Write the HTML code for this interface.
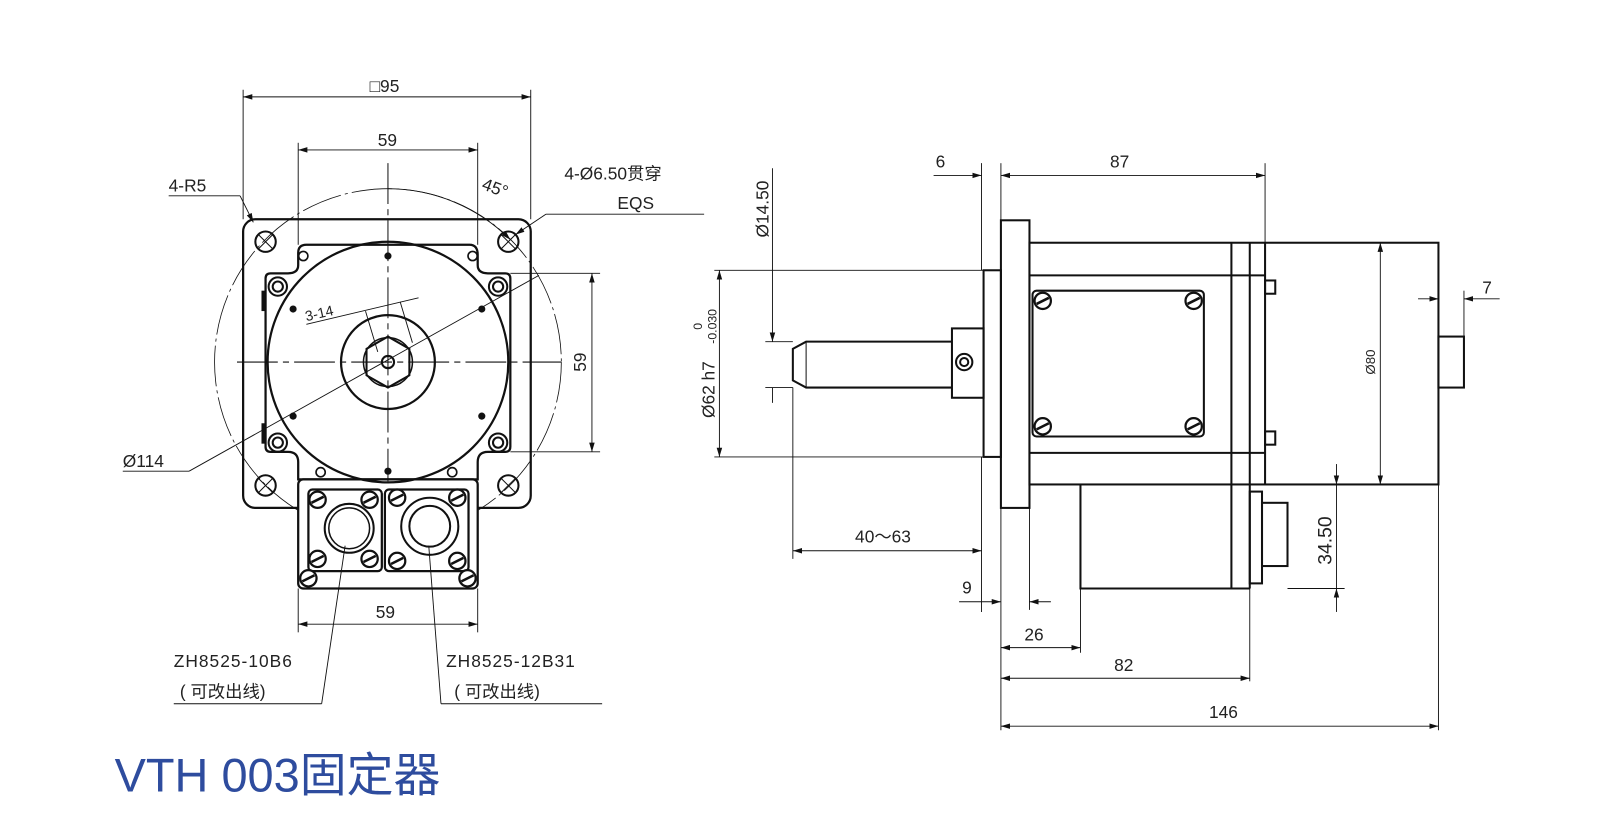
<!DOCTYPE html>
<html><head><meta charset="utf-8"><style>
html,body{margin:0;padding:0;background:#fff;}
svg{display:block}
text{font-family:"Liberation Sans","Noto Sans CJK SC",sans-serif;fill:#222;}
.d{font-size:17px;}
</style></head><body>
<svg width="1601" height="820" viewBox="0 0 1569 804" xmlns="http://www.w3.org/2000/svg">
<defs>
<marker id="a" viewBox="0 0 10 10" refX="10" refY="5" markerWidth="9" markerHeight="9" orient="auto-start-reverse" markerUnits="userSpaceOnUse"><path d="M0,2 L10,5 L0,8z" fill="#111"/></marker>
<g id="scr"><circle r="8" fill="#fff" stroke="#111" stroke-width="2.2"/><line x1="-6" y1="3" x2="6" y2="-3" stroke="#111" stroke-width="2.5"/></g>
<g id="hole"><circle r="10" fill="none" stroke="#111" stroke-width="2"/><line x1="-7" y1="-7" x2="7" y2="7" stroke="#111" stroke-width="1"/><line x1="-7" y1="7" x2="7" y2="-7" stroke="#111" stroke-width="1"/></g>
<g id="ds"><circle r="9" fill="none" stroke="#111" stroke-width="2"/><circle r="5" fill="none" stroke="#111" stroke-width="2"/></g>
</defs>
<g fill="none" stroke="#111">
<circle cx="380" cy="355" r="170" stroke-width="0.8" stroke-dasharray="40 4 3 4"/>
<rect x="238" y="215" width="282" height="283" rx="12" stroke-width="2.2"/>
<rect x="292" y="470" width="176" height="107" rx="5" stroke-width="2.2" fill="#fff"/>
<path d="M300,240 H460 Q468,240 468,250 V260 Q468,268 478,268 H495 Q500,268 500,273 V438 Q500,443 495,443 H478 Q468,443 468,453 V470 H292 V453 Q292,443 282,443 H265 Q260,443 260,438 V273 Q260,268 265,268 H282 Q292,268 292,260 V248 Q292,240 300,240Z" stroke-width="2.2"/>
<rect x="256" y="285" width="4" height="20" fill="#111" stroke="none"/>
<rect x="256" y="415" width="4" height="20" fill="#111" stroke="none"/>
<circle cx="380" cy="355" r="118" stroke-width="2.2"/>
<circle cx="380" cy="355" r="46" stroke-width="2.2"/>
<polygon points="380,330 401,342 401,368 380,380 359,368 359,342" stroke-width="2"/>
<circle cx="380" cy="355" r="24" stroke-width="1.5"/>
<circle cx="380" cy="355" r="6" stroke-width="2"/>
<line x1="232" y1="355" x2="550" y2="355" stroke-width="1" stroke-dasharray="40 5 6 5"/>
<line x1="380" y1="160" x2="380" y2="472" stroke-width="1" stroke-dasharray="40 5 6 5"/>
<line x1="185" y1="462" x2="528" y2="270" stroke-width="0.9"/>
<line x1="120" y1="462" x2="185" y2="462" stroke-width="0.9"/>
<use href="#hole" x="260" y="237"/><use href="#hole" x="498" y="237"/><use href="#hole" x="260" y="476"/><use href="#hole" x="498" y="476"/>
<use href="#ds" x="272" y="281"/><use href="#ds" x="488" y="281"/><use href="#ds" x="272" y="434"/><use href="#ds" x="488" y="434"/>
<circle cx="297" cy="251" r="4.5" stroke-width="1.6"/><circle cx="463" cy="251" r="4.5" stroke-width="1.6"/>
<circle cx="314" cy="463" r="4.5" stroke-width="1.6"/><circle cx="443" cy="463" r="4.5" stroke-width="1.6"/>
<g fill="#111" stroke="none"><circle cx="380" cy="251" r="3.5"/><circle cx="380" cy="462" r="3.5"/><circle cx="287" cy="303" r="3.5"/><circle cx="472" cy="303" r="3.5"/><circle cx="287" cy="408" r="3.5"/><circle cx="472" cy="408" r="3.5"/></g>
<rect x="302" y="480" width="72" height="80" rx="4" stroke-width="2.2"/>
<rect x="377" y="480" width="82" height="80" rx="4" stroke-width="2.2"/>
<circle cx="342" cy="518" r="24" stroke-width="2"/><circle cx="342" cy="518" r="20" stroke-width="1.5"/>
<circle cx="421" cy="516" r="28" stroke-width="2"/><circle cx="421" cy="516" r="20" stroke-width="2"/>
<use href="#scr" x="311" y="490"/><use href="#scr" x="362" y="490"/><use href="#scr" x="311" y="548"/><use href="#scr" x="362" y="548"/>
<use href="#scr" x="389" y="488"/><use href="#scr" x="448" y="488"/><use href="#scr" x="389" y="550"/><use href="#scr" x="448" y="550"/>
<use href="#scr" x="302" y="567"/><use href="#scr" x="458" y="567"/>
<g stroke-width="0.9">
<line x1="238" y1="88" x2="238" y2="215"/><line x1="520" y1="88" x2="520" y2="215"/>
<line x1="238" y1="95" x2="520" y2="95" marker-start="url(#a)" marker-end="url(#a)"/>
<line x1="292" y1="140" x2="292" y2="240"/><line x1="468" y1="140" x2="468" y2="240"/>
<line x1="292" y1="147" x2="468" y2="147" marker-start="url(#a)" marker-end="url(#a)"/>
<line x1="500" y1="268" x2="588" y2="268"/><line x1="500" y1="443" x2="588" y2="443"/>
<line x1="580" y1="268" x2="580" y2="443" marker-start="url(#a)" marker-end="url(#a)"/>
<line x1="292" y1="577" x2="292" y2="620"/><line x1="468" y1="577" x2="468" y2="620"/>
<line x1="292" y1="612" x2="468" y2="612" marker-start="url(#a)" marker-end="url(#a)"/>
<path d="M380,185 A170,170 0 0 1 500,235" marker-end="url(#a)"/>
<line x1="165" y1="192" x2="235" y2="192"/><line x1="235" y1="192" x2="248" y2="218" marker-end="url(#a)"/>
<line x1="535" y1="210" x2="690" y2="210"/><line x1="535" y1="210" x2="505" y2="230" marker-end="url(#a)"/>
<line x1="300" y1="318" x2="410" y2="292"/>
<line x1="358" y1="305" x2="370" y2="345"/><line x1="392" y1="296" x2="404" y2="336"/>
<line x1="170" y1="690" x2="315" y2="690"/><line x1="315" y1="690" x2="338" y2="535"/>
<line x1="432" y1="690" x2="590" y2="690"/><line x1="432" y1="690" x2="420" y2="535"/>
</g>
<g stroke-width="2">
<rect x="981" y="216" width="28" height="282"/>
<rect x="964" y="265" width="17" height="183"/>
<rect x="1009" y="238" width="401" height="237"/>
<line x1="1009" y1="270" x2="1240" y2="270"/><line x1="1009" y1="444" x2="1240" y2="444"/>
<line x1="1207" y1="238" x2="1207" y2="577"/><line x1="1225" y1="238" x2="1225" y2="577"/><line x1="1240" y1="238" x2="1240" y2="475"/>
<rect x="1012" y="285" width="168" height="143" rx="4"/>
<path d="M1059,475 V577 H1225"/>
<rect x="1240" y="275" width="10" height="13"/><rect x="1240" y="423" width="10" height="13"/>
<rect x="1225" y="482" width="12" height="90"/>
<rect x="1237" y="493" width="25" height="62"/>
<rect x="1410" y="330" width="25" height="50"/>
<rect x="933" y="322" width="31" height="68"/>
<path d="M933,335 H790 L777,342 V373 L790,380 H933"/>
<line x1="790" y1="335" x2="790" y2="380" stroke-width="1"/>
<circle cx="945" cy="355" r="8"/><circle cx="945" cy="355" r="4"/>
</g>
<use href="#scr" x="1022" y="295"/><use href="#scr" x="1170" y="295"/><use href="#scr" x="1022" y="418"/><use href="#scr" x="1170" y="418"/>
<g stroke-width="0.9">
<line x1="962" y1="160" x2="962" y2="265"/><line x1="981" y1="160" x2="981" y2="216"/><line x1="1240" y1="160" x2="1240" y2="238"/>
<line x1="915" y1="172" x2="962" y2="172" marker-end="url(#a)"/>
<line x1="981" y1="172" x2="1240" y2="172" marker-start="url(#a)" marker-end="url(#a)"/>
<line x1="750" y1="335" x2="777" y2="335"/><line x1="750" y1="380" x2="777" y2="380"/>
<line x1="757" y1="165" x2="757" y2="335" marker-end="url(#a)"/><line x1="757" y1="380" x2="757" y2="395"/>
<line x1="700" y1="265" x2="964" y2="265"/><line x1="700" y1="448" x2="964" y2="448"/>
<line x1="705" y1="265" x2="705" y2="448" marker-start="url(#a)" marker-end="url(#a)"/>
<line x1="777" y1="380" x2="777" y2="548"/><line x1="962" y1="448" x2="962" y2="600"/>
<line x1="777" y1="540" x2="962" y2="540" marker-start="url(#a)" marker-end="url(#a)"/>
<line x1="981" y1="498" x2="981" y2="716"/><line x1="1009" y1="498" x2="1009" y2="598"/>
<line x1="1059" y1="577" x2="1059" y2="640"/><line x1="1225" y1="577" x2="1225" y2="668"/><line x1="1410" y1="475" x2="1410" y2="716"/>
<line x1="940" y1="590" x2="981" y2="590" marker-end="url(#a)"/><line x1="1030" y1="590" x2="1009" y2="590" marker-end="url(#a)"/>
<line x1="981" y1="635" x2="1059" y2="635" marker-start="url(#a)" marker-end="url(#a)"/>
<line x1="981" y1="665" x2="1225" y2="665" marker-start="url(#a)" marker-end="url(#a)"/>
<line x1="981" y1="712" x2="1410" y2="712" marker-start="url(#a)" marker-end="url(#a)"/>
<line x1="1353" y1="238" x2="1353" y2="475" marker-start="url(#a)" marker-end="url(#a)"/>
<line x1="1435" y1="285" x2="1435" y2="330"/>
<line x1="1390" y1="293" x2="1410" y2="293" marker-end="url(#a)"/><line x1="1470" y1="293" x2="1435" y2="293" marker-end="url(#a)"/>
<line x1="1262" y1="577" x2="1318" y2="577"/>
<line x1="1310" y1="455" x2="1310" y2="475" marker-end="url(#a)"/><line x1="1310" y1="475" x2="1310" y2="577"/><line x1="1310" y1="600" x2="1310" y2="577" marker-end="url(#a)"/>
</g>
</g>
<g class="d">
<text x="362" y="90">□95</text>
<text x="370" y="143">59</text>
<text x="368" y="606">59</text>
<text transform="translate(574,355) rotate(-90)" text-anchor="middle">59</text>
<text x="472" y="190" transform="rotate(20 485 185)">45°</text>
<text x="165" y="188">4-R5</text>
<text x="553" y="176">4-Ø6.50贯穿</text>
<text x="605" y="205">EQS</text>
<text x="120" y="458">Ø114</text>
<text x="300" y="315" transform="rotate(-13 300 315)" font-size="14">3-14</text>
<text x="170" y="654" letter-spacing="1">ZH8525-10B6</text>
<text x="176" y="684">( 可改出线)</text>
<text x="437" y="654" letter-spacing="1">ZH8525-12B31</text>
<text x="445" y="684">( 可改出线)</text>
<text x="917" y="164">6</text>
<text x="1088" y="164">87</text>
<text transform="translate(753,205) rotate(-90)" text-anchor="middle">Ø14.50</text>
<text transform="translate(700,382) rotate(-90)" text-anchor="middle">Ø62 h7</text>
<text transform="translate(688,320) rotate(-90)" font-size="12" text-anchor="middle">0</text>
<text transform="translate(702,320) rotate(-90)" font-size="12" text-anchor="middle">-0.030</text>
<text x="838" y="532">40～63</text>
<text x="943" y="582">9</text>
<text x="1004" y="628">26</text>
<text x="1092" y="658">82</text>
<text x="1185" y="704">146</text>
<text transform="translate(1348,355) rotate(-90)" text-anchor="middle" font-size="13">Ø80</text>
<text x="1453" y="288">7</text>
<text transform="translate(1305,530) rotate(-90)" text-anchor="middle" font-size="19">34.50</text>
</g>
<text x="112" y="776" font-size="46" style="fill:#2e4c9e">VTH 003固定器</text>
</svg>
</body></html>
